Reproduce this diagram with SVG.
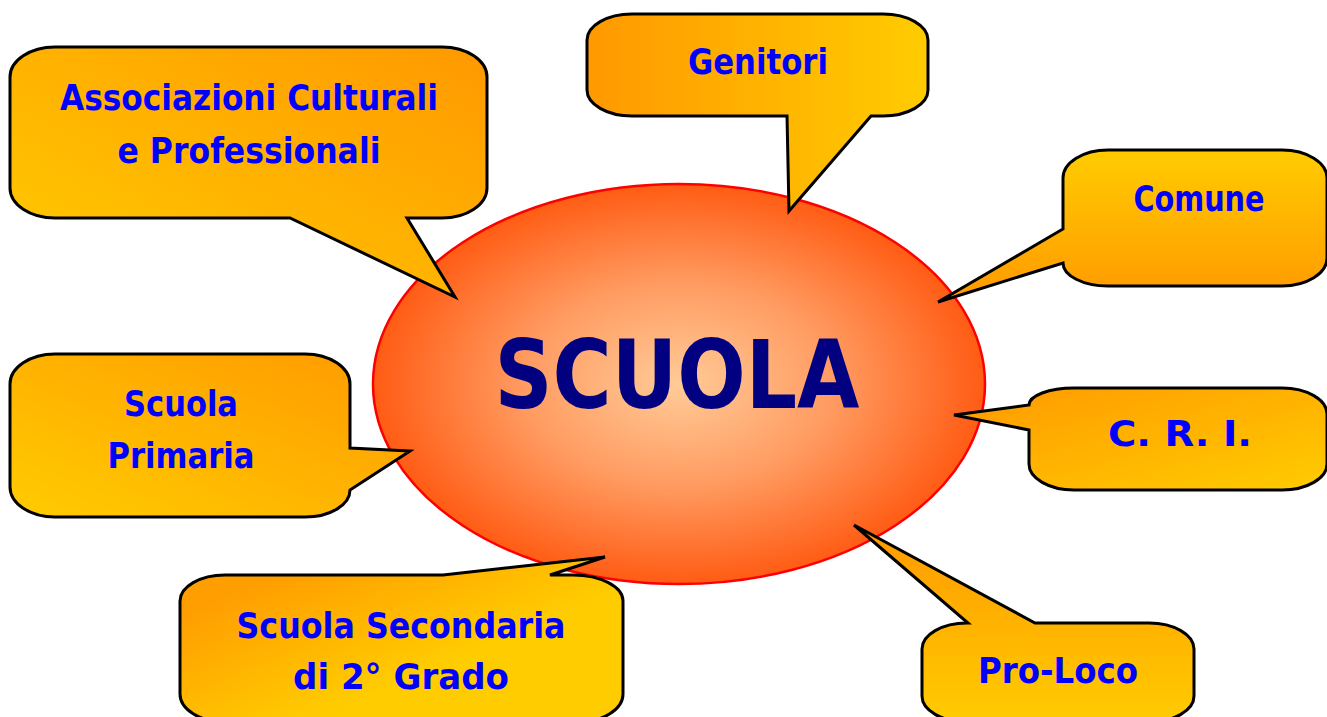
<svg xmlns="http://www.w3.org/2000/svg" width="1327" height="717" viewBox="0 0 1327 717">
<style>
.box{stroke:#000;stroke-width:3;stroke-linejoin:miter}
.lbl{font-family:"DejaVu Sans","Liberation Sans",sans-serif;font-weight:bold;font-size:35px;fill:#0000FF;text-anchor:middle}
.big{font-family:"DejaVu Sans","Liberation Sans",sans-serif;font-weight:bold;font-size:94px;fill:#000080;text-anchor:middle}
</style>
<defs>
<radialGradient id="gEll" cx="0.5" cy="0.5" r="0.5">
<stop offset="0" stop-color="#FFCB98"/>
<stop offset="0.5" stop-color="#FF9C62"/>
<stop offset="1" stop-color="#FF5C14"/>
</radialGradient>
<linearGradient id="gBLTR" x1="0" y1="1" x2="1" y2="0"><stop offset="0" stop-color="#FFCC00"/><stop offset="1" stop-color="#FF9900"/></linearGradient>
<linearGradient id="gLR" x1="0" y1="0" x2="1" y2="0"><stop offset="0" stop-color="#FF9900"/><stop offset="1" stop-color="#FFCC00"/></linearGradient>
<linearGradient id="gTB" x1="0" y1="0" x2="0" y2="1"><stop offset="0" stop-color="#FFCC00"/><stop offset="1" stop-color="#FF9900"/></linearGradient>
<linearGradient id="gTLBR" x1="0" y1="0" x2="1" y2="1"><stop offset="0" stop-color="#FF9900"/><stop offset="1" stop-color="#FFCC00"/></linearGradient>
<linearGradient id="gSec" x1="0.1" y1="0" x2="0.9" y2="0.7"><stop offset="0.15" stop-color="#FF9E00"/><stop offset="0.75" stop-color="#FFCC00"/></linearGradient>
<linearGradient id="gBT" x1="0" y1="0" x2="0" y2="1"><stop offset="0" stop-color="#FF9900"/><stop offset="1" stop-color="#FFCC00"/></linearGradient>
</defs>
<rect width="1327" height="717" fill="#fff"/>
<g id="scuola">
<ellipse cx="679" cy="384" rx="306" ry="200" fill="url(#gEll)" stroke="#FF0000" stroke-width="2.5"/>
<text class="big" x="677" y="408" textLength="365" lengthAdjust="spacingAndGlyphs">SCUOLA</text>
</g>
<g id="connectors"></g>
<g id="associazioni">
<path class="box" fill="url(#gBLTR)" d="M55,47 H442 A45,30 0 0 1 487,77 V188 A45,30 0 0 1 442,218 H407 L455,297 L290,218 H55 A45,30 0 0 1 10,188 V77 A45,30 0 0 1 55,47 Z"/>
<text class="lbl" x="249" y="110" textLength="378" lengthAdjust="spacingAndGlyphs">Associazioni Culturali</text>
<text class="lbl" x="249" y="163" textLength="263" lengthAdjust="spacingAndGlyphs">e Professionali</text>
</g>
<g id="genitori">
<path class="box" fill="url(#gLR)" d="M632,14 H883 A45,26 0 0 1 928,40 V90 A45,26 0 0 1 883,116 H871 L789,211 L787,116 H632 A45,26 0 0 1 587,90 V40 A45,26 0 0 1 632,14 Z"/>
<text class="lbl" x="758" y="74" textLength="140" lengthAdjust="spacingAndGlyphs">Genitori</text>
</g>
<g id="comune">
<path class="box" fill="url(#gTB)" d="M1108,150 H1282 A45,28 0 0 1 1327,178 V258 A45,28 0 0 1 1282,286 H1108 A45,23 0 0 1 1063,263 L938,302 L1063,229 V178 A45,28 0 0 1 1108,150 Z"/>
<text class="lbl" x="1199" y="211" textLength="131" lengthAdjust="spacingAndGlyphs">Comune</text>
</g>
<g id="cri">
<path class="box" fill="url(#gTLBR)" d="M1074,388 H1282 A45,26 0 0 1 1327,414 V464 A45,26 0 0 1 1282,490 H1074 A45,26 0 0 1 1029,464 V430 L954,415 L1029,405 A45,17 0 0 1 1074,388 Z"/>
<text class="lbl" x="1180" y="446" textLength="144" lengthAdjust="spacingAndGlyphs">C. R. I.</text>
</g>
<g id="primaria">
<path class="box" fill="url(#gBLTR)" d="M55,354 H305 A45,30 0 0 1 350,384 V448 L410,451 L350,490 A45,27 0 0 1 305,517 H55 A45,30 0 0 1 10,487 V384 A45,30 0 0 1 55,354 Z"/>
<text class="lbl" x="181" y="416" textLength="114" lengthAdjust="spacingAndGlyphs">Scuola</text>
<text class="lbl" x="181" y="468" textLength="147" lengthAdjust="spacingAndGlyphs">Primaria</text>
</g>
<g id="secondaria">
<path class="box" fill="url(#gSec)" d="M225,575 H443 L605,557 L550,575 H573 A50,26 0 0 1 623,601 V694 A45,28 0 0 1 578,722 H225 A45,28 0 0 1 180,694 V601 A45,26 0 0 1 225,575 Z"/>
<text class="lbl" x="401" y="638" textLength="329" lengthAdjust="spacingAndGlyphs">Scuola Secondaria</text>
<text class="lbl" x="401" y="689" textLength="216" lengthAdjust="spacingAndGlyphs">di 2° Grado</text>
</g>
<g id="proloco">
<path class="box" fill="url(#gBT)" d="M967,623 H968 L854,525 L1035,623 H1149 A45,26 0 0 1 1194,649 V696 A45,26 0 0 1 1149,722 H967 A45,26 0 0 1 922,696 V649 A45,26 0 0 1 967,623 Z"/>
<text class="lbl" x="1058" y="683" textLength="160" lengthAdjust="spacingAndGlyphs">Pro-Loco</text>
</g>
</svg>
